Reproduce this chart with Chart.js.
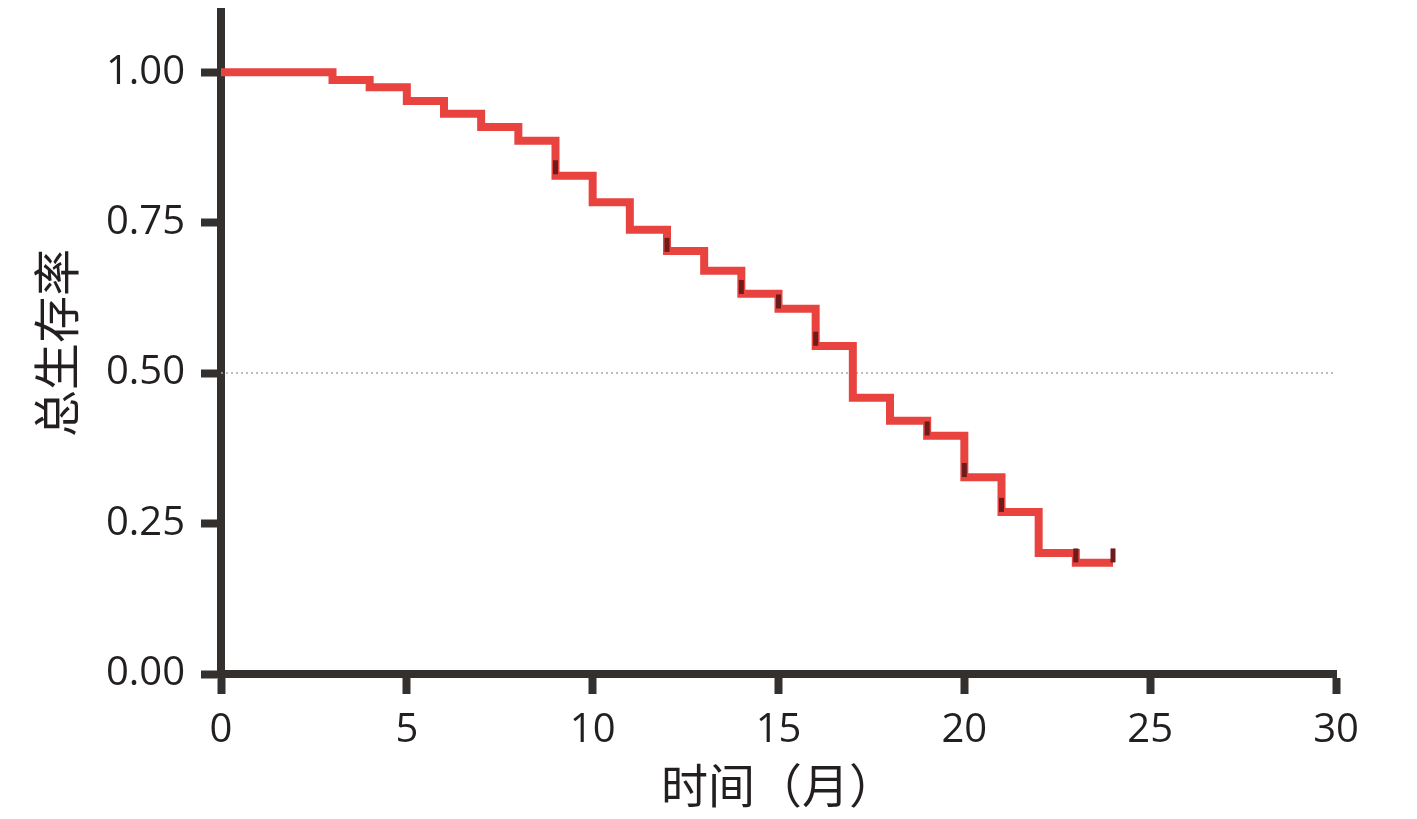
<!DOCTYPE html>
<html>
<head>
<meta charset="utf-8">
<script src="https://cdn.jsdelivr.net/npm/chart.js@4"></script>
<style>
  html, body { margin: 0; padding: 0; background: #ffffff; }
  #wrap { width: 1417px; height: 819px; }
</style>
</head>
<body>
<div id="wrap"><canvas id="c" width="1417" height="819"></canvas></div>
<script>
// Kaplan-Meier steps: time (months) and survival after that time
const stepTimes = [0, 3, 4, 5, 6, 7, 8, 9, 10, 11, 12, 13, 14, 15, 16, 17, 18, 19, 20, 21, 22, 23, 24];
const survival  = [1.00, 0.987, 0.975, 0.952, 0.931, 0.909, 0.886, 0.828, 0.784, 0.738, 0.703, 0.670, 0.632, 0.607, 0.545, 0.459, 0.421, 0.396, 0.327, 0.269, 0.201, 0.185, 0.185];
// censoring marks
const censorTimes = [9, 12, 14, 15, 16, 19, 20, 21, 23, 24];
const censorY     = [0.842, 0.713, 0.643, 0.619, 0.557, 0.408, 0.339, 0.281, 0.197, 0.197];
// reference line
const refLineX = [0, 30];
const refLineY = [0.5, 0.5];
// tick labels
const xTicks = [0, 5, 10, 15, 20, 25, 30];
const yTicks = [0, 0.25, 0.5, 0.75, 1.0];
const xTitle = '时间（月）';
const yTitle = '总生存率';

const axisColor = '#34302d';
const textColor = '#231f20';

const kmData = stepTimes.map((t, i) => ({ x: t, y: survival[i] }));
const censorData = censorTimes.map((t, i) => ({ x: t, y: censorY[i] }));
const refData = refLineX.map((t, i) => ({ x: t, y: refLineY[i] }));

new Chart(document.getElementById('c'), {
  type: 'scatter',
  data: {
    datasets: [
      {
        label: 'ref',
        data: refData,
        showLine: true,
        borderColor: '#a8a8a8',
        borderWidth: 1.5,
        borderDash: [2, 3],
        pointRadius: 0,
        fill: false,
        order: 3
      },
      {
        label: 'KM',
        data: kmData,
        showLine: true,
        stepped: 'before',
        borderColor: '#e8433f',
        borderWidth: 8,
        borderCapStyle: 'butt',
        borderJoinStyle: 'miter',
        pointRadius: 0,
        fill: false,
        order: 2
      },
      {
        label: 'censor',
        data: censorData,
        showLine: false,
        pointStyle: 'line',
        rotation: 90,
        pointRadius: 7,
        pointBorderWidth: 5,
        pointBorderColor: '#6e1b1b',
        pointBackgroundColor: '#6e1b1b',
        order: 1
      }
    ]
  },
  options: {
    responsive: false,
    animation: false,
    devicePixelRatio: 1,
    layout: { padding: { top: 7, right: 81, left: 0, bottom: 0 } },
    plugins: {
      legend: { display: false },
      tooltip: { enabled: false }
    },
    scales: {
      x: {
        type: 'linear',
        min: 0,
        max: 30,
        afterFit: (s) => { s.height = 145; s.paddingLeft = 0; s.paddingRight = 0; },
        afterBuildTicks: (s) => { s.ticks = xTicks.map(v => ({ value: v })); },
        border: { display: true, color: axisColor, width: 8 },
        grid: { display: true, drawOnChartArea: false, drawTicks: true, tickLength: 20, tickWidth: 8, tickColor: axisColor },
        ticks: {
          padding: 13,
          color: textColor,
          font: { family: '"Open Sans", "Noto Sans", sans-serif', size: 40 },
          maxRotation: 0,
          callback: (v) => String(v)
        },
        title: {
          display: true,
          text: xTitle,
          color: textColor,
          font: { family: '"Noto Sans CJK SC", sans-serif', size: 47 },
          padding: { top: 0, bottom: 6 }
        }
      },
      y: {
        type: 'linear',
        min: 0,
        max: 1.1,
        afterFit: (s) => { s.width = 221; s.paddingTop = 0; s.paddingBottom = 0; },
        afterBuildTicks: (s) => { s.ticks = yTicks.map(v => ({ value: v })); },
        border: { display: true, color: axisColor, width: 8 },
        grid: { display: true, drawOnChartArea: false, drawTicks: true, tickLength: 20, tickWidth: 8, tickColor: axisColor },
        ticks: {
          padding: 16,
          color: textColor,
          font: { family: '"Open Sans", "Noto Sans", sans-serif', size: 40 },
          callback: (v) => Number(v).toFixed(2)
        },
        title: {
          display: true,
          text: yTitle,
          color: textColor,
          font: { family: '"Noto Sans CJK SC", sans-serif', size: 47 },
          padding: { top: 28, bottom: 0 }
        }
      }
    }
  }
});
</script>
</body>
</html>
